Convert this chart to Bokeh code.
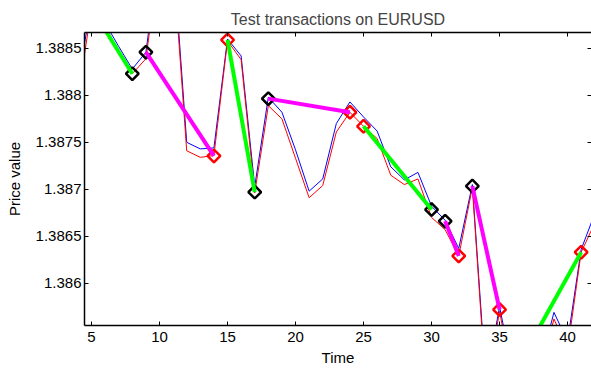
from bokeh.plotting import figure
from bokeh.models import Range1d, FixedTicker, LinearAxis, CustomJSTickFormatter
from bokeh.embed import file_html
from bokeh.resources import INLINE

# Quote series (one value per time step)
time = list(range(4, 43))
ask = [1.38815, 1.38898, 1.38877, 1.38852, 1.38828, 1.38846, 1.38956, 1.38951,
       1.38750, 1.38743, 1.38744, 1.38860, 1.38842, 1.38703, 1.38798, 1.38782,
       1.38742, 1.38698, 1.38711, 1.38770, 1.38793, 1.38777, 1.38762, 1.38724,
       1.38710, 1.38718, 1.38682, 1.38667, 1.38637, 1.38705, 1.38495, 1.38575,
       1.38503, 1.38508, 1.38513, 1.38569, 1.38538, 1.38636, 1.38674]
bid = [1.38797, 1.38893, 1.38874, 1.38847, 1.38823, 1.38839, 1.38947, 1.38943,
       1.38741, 1.38734, 1.38736, 1.38858, 1.38838, 1.38696, 1.38789, 1.38775,
       1.38733, 1.38691, 1.38704, 1.38761, 1.38782, 1.38767, 1.38754, 1.38715,
       1.38705, 1.38711, 1.38670, 1.38657, 1.38629, 1.38702, 1.38488, 1.38570,
       1.38495, 1.38500, 1.38506, 1.38562, 1.38529, 1.38633, 1.38664]

# Executions
buy_time = [8, 9, 17, 18, 30, 31, 33, 36]
buy_price = [1.38823, 1.38846, 1.38697, 1.387965, 1.386784, 1.386661, 1.387034, 1.38503]
sell_time = [5, 14, 15, 24, 25, 32, 35, 41]
sell_price = [1.38893, 1.387355, 1.38859, 1.38782, 1.38767, 1.38629, 1.38572, 1.38633]

# Round trips: side, opening time, closing time
trade_side = ["short", "long", "short", "long", "short", "long", "long", "long"]
trade_open = [5, 9, 15, 18, 25, 31, 33, 36]
trade_close = [8, 14, 17, 24, 30, 32, 35, 41]

x_ticks = [5, 10, 15, 20, 25, 30, 35, 40]
y_ticks = [1.386, 1.3865, 1.387, 1.3875, 1.388, 1.3885]

FONT = "Liberation Sans"
FS = "15px"

buys = dict(zip(buy_time, buy_price))
sells = dict(zip(sell_time, sell_price))
x0, y0, x1, y1, colors = [], [], [], [], []
for side, t_in, t_out in zip(trade_side, trade_open, trade_close):
    if side == "long":
        p_in, p_out = buys[t_in], sells[t_out]
        pnl = p_out - p_in
    else:
        p_in, p_out = sells[t_in], buys[t_out]
        pnl = p_in - p_out
    x0.append(t_in); y0.append(p_in); x1.append(t_out); y1.append(p_out)
    colors.append("#00ff00" if pnl > 0 else "#ff00ff")

p = figure(width=591, height=368, output_backend="svg", toolbar_location=None,
           x_range=Range1d(4.485, 41.76), y_range=Range1d(1.38555, 1.388669),
           min_border_left=84, min_border_right=0, min_border_top=32,
           min_border_bottom=41, background_fill_color="white",
           border_fill_color="white", outline_line_color=None)

p.line(time, ask, line_color="#0000ff", line_width=1)
p.line(time, bid, line_color="#ff0000", line_width=1)

p.scatter(buy_time, buy_price, marker="square", angle=0.785398, size=9,
          fill_color=None, line_color="black", line_width=2.5)
p.scatter(sell_time, sell_price, marker="square", angle=0.785398, size=9,
          fill_color=None, line_color="#ff0000", line_width=2.5)

p.segment(x0=x0, y0=y0, x1=x1, y1=y1, line_color=colors, line_width=4)

p.xgrid.visible = False
p.ygrid.visible = False

fmt = CustomJSTickFormatter(code="return String(Number(tick.toFixed(4)));")


def style(ax, labels=True):
    ax.major_tick_in = 4
    ax.major_tick_out = 0
    ax.minor_tick_line_color = None
    ax.axis_line_color = "black"
    ax.axis_line_width = 1.5
    ax.major_tick_line_color = "black"
    ax.major_label_text_font = FONT
    if labels:
        ax.major_label_text_font_size = FS
        ax.major_label_text_color = "black"
    else:
        # tick marks only on the mirrored sides
        ax.major_label_text_font_size = "0px"
        ax.major_label_text_color = None
    ax.axis_label_text_font = FONT
    ax.axis_label_text_font_size = FS
    ax.axis_label_text_font_style = "normal"
    ax.axis_label_text_color = "black"


xa = p.xaxis[0]
xa.ticker = FixedTicker(ticks=x_ticks)
xa.axis_label = "Time"
xa.major_label_standoff = 6
xa.axis_label_standoff = 4
style(xa)

ya = p.yaxis[0]
ya.ticker = FixedTicker(ticks=y_ticks)
ya.formatter = fmt
ya.axis_label = "Price value"
ya.major_label_standoff = 3
ya.axis_label_standoff = 10
style(ya)

top = LinearAxis(ticker=FixedTicker(ticks=x_ticks), major_label_standoff=0)
style(top, labels=False)
p.add_layout(top, "above")

right = LinearAxis(ticker=FixedTicker(ticks=y_ticks), major_label_standoff=0)
style(right, labels=False)
right.axis_line_color = None
p.add_layout(right, "right")

p.title.text = "Test transactions on EURUSD"
p.title.align = "center"
p.title.vertical_align = "top"
p.title.text_font = FONT
p.title.text_font_size = "16px"
p.title.text_font_style = "normal"
p.title.standoff = 6

open("out.html", "w").write(file_html(p, INLINE))
